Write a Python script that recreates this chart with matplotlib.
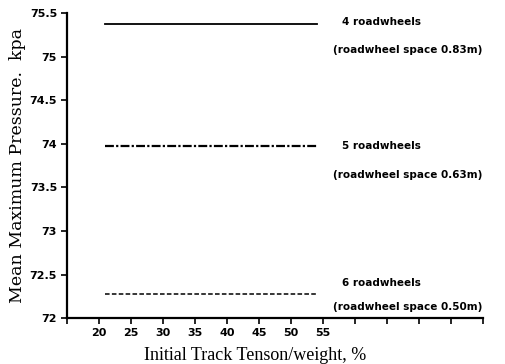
import matplotlib
matplotlib.use('Agg')
import matplotlib.pyplot as plt

# initial track tension / weight, %
tension = [21, 25, 30, 35, 40, 45, 50, 54]
# mean maximum pressure, kpa
p_4wheels = [75.38, 75.38, 75.38, 75.38, 75.38, 75.38, 75.38, 75.38]
p_5wheels = [73.97, 73.97, 73.97, 73.97, 73.97, 73.97, 73.97, 73.97]
p_6wheels = [72.28, 72.28, 72.28, 72.28, 72.28, 72.28, 72.28, 72.28]

labels = ['4 roadwheels', '5 roadwheels', '6 roadwheels']
spacings = ['(roadwheel space 0.83m)', '(roadwheel space 0.63m)', '(roadwheel space 0.50m)']

xticks = [15, 20, 25, 30, 35, 40, 45, 50, 55, 60, 65, 70, 75, 80]
xticklabels = ['', '20', '25', '30', '35', '40', '45', '50', '55', '', '', '', '', '']
yticks = [72, 72.5, 73, 73.5, 74, 74.5, 75, 75.5]
yticklabels = ['72', '72.5', '73', '73.5', '74', '74.5', '75', '75.5']

fig = plt.figure(figsize=(5.06, 3.64), dpi=100)
ax = fig.add_axes([0.132, 0.126, 0.823, 0.838])

ax.plot(tension, p_4wheels, color='black', lw=1.3, ls='-')
ax.plot(tension, p_5wheels, color='black', lw=1.6, ls=(0, (4, 1, 1, 1)))
ax.plot(tension, p_6wheels, color='black', lw=1.1, ls=(0, (3, 1.5)))

# curve labels to the right of each line (offsets in kpa from the line)
name_off = [0.02, 0.01, 0.12]
space_off = [-0.30, -0.33, -0.15]
for y, name, sp, dn, ds in zip([p_4wheels[-1], p_5wheels[-1], p_6wheels[-1]],
                               labels, spacings, name_off, space_off):
    ax.text(58.0, y + dn, name, fontsize=7.5, fontweight='bold', family='DejaVu Sans',
            va='center', ha='left')
    ax.text(56.6, y + ds, sp, fontsize=7.5, fontweight='bold', family='DejaVu Sans',
            va='center', ha='left')

ax.set_xlim(15, 80)
ax.set_ylim(72, 75.5)
ax.set_xticks(xticks)
ax.set_xticklabels(xticklabels, fontsize=8, fontweight='bold')
ax.set_yticks(yticks)
ax.set_yticklabels(yticklabels, fontsize=8, fontweight='bold')
ax.tick_params(direction='out', length=4, width=1.2, pad=3)

for s in ['top', 'right']:
    ax.spines[s].set_visible(False)
for s in ['left', 'bottom']:
    ax.spines[s].set_linewidth(1.6)

ax.set_xlabel('Initial Track Tenson/weight, %', family='Liberation Serif', fontsize=13)
ax.xaxis.set_label_coords(0.452, -0.095)
ax.set_ylabel('Mean Maximum Pressure.  kpa', family='DejaVu Serif', fontsize=12.5)
ax.yaxis.set_label_coords(-0.098, 0.5)

fig.savefig('out.png', dpi=100)
